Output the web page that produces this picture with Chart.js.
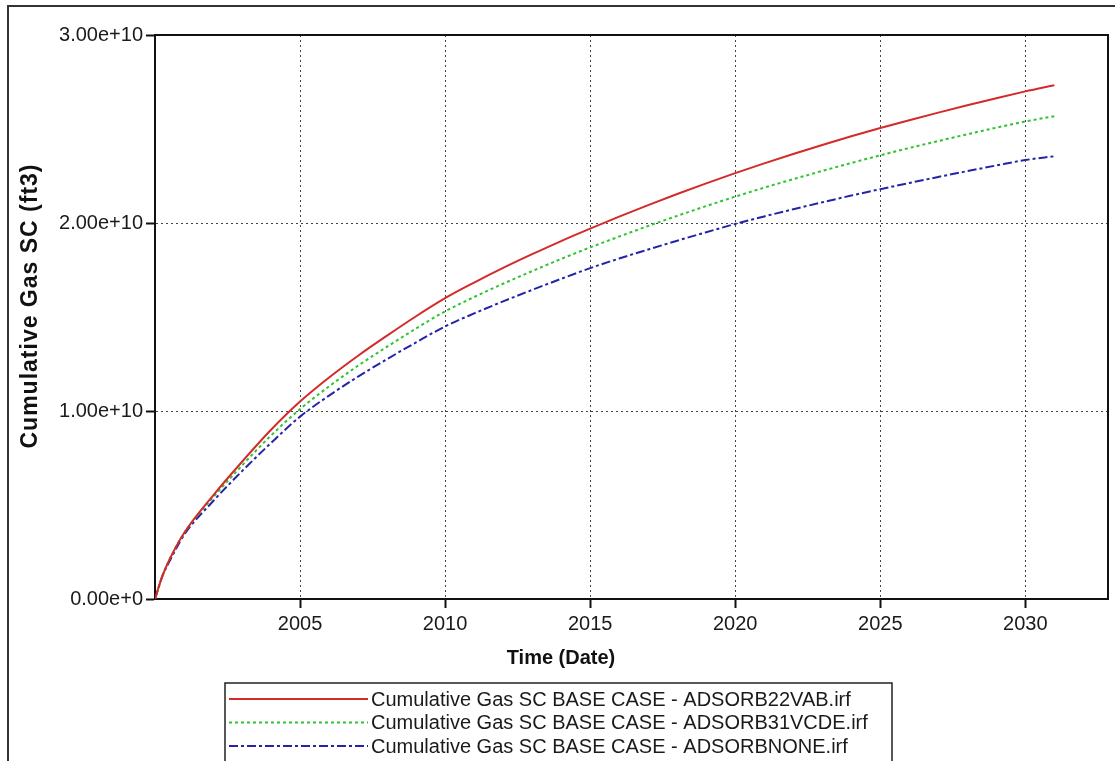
<!DOCTYPE html>
<html>
<head>
<meta charset="utf-8">
<script src="https://cdn.jsdelivr.net/npm/chart.js@4/dist/chart.umd.min.js"></script>
<style>
  html, body { margin: 0; padding: 0; background: #fff; }
  #wrap { width: 1115px; height: 761px; position: relative; }
</style>
</head>
<body>
<div id="wrap"><canvas id="c" width="1115" height="761"></canvas></div>
<script>
// Simulation output times (decimal years)
const years = [2000, 2000.25, 2000.5, 2001, 2002, 2003, 2004, 2005, 2006, 2007, 2008, 2009, 2010,
  2011, 2012, 2013, 2014, 2015, 2016, 2017, 2018, 2019, 2020, 2021, 2022, 2023, 2024, 2025,
  2026, 2027, 2028, 2029, 2030, 2031];

// Cumulative gas produced, in units of 1e10 ft3
const adsorb22vab = [0, 0.12, 0.21, 0.35, 0.55, 0.73, 0.90, 1.05, 1.178, 1.294, 1.401, 1.504, 1.60,
  1.683, 1.761, 1.834, 1.904, 1.97, 2.034, 2.095, 2.154, 2.211, 2.265, 2.317, 2.367, 2.415, 2.461, 2.505,
  2.547, 2.587, 2.626, 2.664, 2.70, 2.733];
const adsorb31vcde = [0, 0.12, 0.21, 0.35, 0.54, 0.71, 0.87, 1.01, 1.131, 1.241, 1.342, 1.439, 1.53,
  1.606, 1.677, 1.744, 1.809, 1.87, 1.928, 1.984, 2.038, 2.09, 2.14, 2.188, 2.233, 2.277, 2.319, 2.36,
  2.399, 2.436, 2.472, 2.507, 2.54, 2.568];
const adsorbnone = [0, 0.12, 0.20, 0.34, 0.52, 0.68, 0.83, 0.97, 1.082, 1.183, 1.276, 1.365, 1.45,
  1.519, 1.583, 1.644, 1.703, 1.76, 1.811, 1.859, 1.906, 1.951, 1.995, 2.035, 2.073, 2.11, 2.146, 2.18,
  2.213, 2.245, 2.276, 2.306, 2.335, 2.355];

const seriesNames = [
  'Cumulative Gas SC BASE CASE - ADSORB22VAB.irf',
  'Cumulative Gas SC BASE CASE - ADSORB31VCDE.irf',
  'Cumulative Gas SC BASE CASE - ADSORBNONE.irf'
];

const xTickYears = [2005, 2010, 2015, 2020, 2025, 2030];
const yTickValues = [0, 1e10, 2e10, 3e10];
const yTickLabels = ['0.00e+0', '1.00e+10', '2.00e+10', '3.00e+10'];

const xTitle = 'Time (Date)';
const yTitle = 'Cumulative Gas SC (ft3)';

const FONT = '"Liberation Sans", Arial, Helvetica, sans-serif';
const SCALE = 1e10;

function toPoints(vals) {
  return years.map((t, i) => ({ x: t, y: vals[i] * SCALE }));
}

const styles = [
  { color: '#d42a2a', dash: [] },
  { color: '#2fc42f', dash: [3, 3] },
  { color: '#2424a8', dash: [9, 3, 3, 3] }
];

const seriesValues = [adsorb22vab, adsorb31vcde, adsorbnone];

const datasets = seriesValues.map((vals, i) => ({
  label: seriesNames[i],
  data: toPoints(vals),
  borderColor: styles[i].color,
  backgroundColor: 'transparent',
  borderDash: styles[i].dash,
  borderWidth: 2,
  pointRadius: 0,
  cubicInterpolationMode: 'monotone',
  fill: false
}));

// Plot frame, outer border, axis titles and the boxed legend underneath
const decorPlugin = {
  id: 'decor',
  afterDraw(chart) {
    const { ctx, chartArea: a } = chart;
    ctx.save();

    // top and right edges of the plot box
    ctx.strokeStyle = '#111';
    ctx.lineWidth = 2;
    ctx.setLineDash([]);
    ctx.beginPath();
    ctx.moveTo(a.left, a.top);
    ctx.lineTo(a.right, a.top);
    ctx.lineTo(a.right, a.bottom);
    ctx.stroke();

    // outer frame
    ctx.strokeStyle = '#333';
    ctx.lineWidth = 2;
    ctx.strokeRect(8, 6, 1120, 800);

    // axis titles
    ctx.fillStyle = '#111';
    ctx.font = 'bold 20px ' + FONT;
    ctx.textAlign = 'center';
    ctx.textBaseline = 'middle';
    ctx.fillText(xTitle, 561, 658);
    ctx.save();
    ctx.translate(31, 306);
    ctx.rotate(-Math.PI / 2);
    ctx.font = 'bold 23px ' + FONT;
    ctx.letterSpacing = '1px';
    ctx.fillText(yTitle, 0, 0);
    ctx.restore();

    // legend
    const box = { left: 225, top: 683, right: 892, bottom: 780 };
    ctx.fillStyle = '#fff';
    ctx.fillRect(box.left, box.top, box.right - box.left, box.bottom - box.top);
    ctx.strokeStyle = '#222';
    ctx.lineWidth = 1.5;
    ctx.strokeRect(box.left, box.top, box.right - box.left, box.bottom - box.top);

    const rowY = [699, 722.5, 746];
    ctx.font = '20px ' + FONT;
    ctx.textAlign = 'left';
    ctx.fillStyle = '#1a1a1a';
    chart.data.datasets.forEach((ds, i) => {
      const y = rowY[i];
      ctx.strokeStyle = ds.borderColor;
      ctx.lineWidth = 2;
      ctx.setLineDash(ds.borderDash || []);
      ctx.beginPath();
      ctx.moveTo(229, y);
      ctx.lineTo(368, y);
      ctx.stroke();
      ctx.setLineDash([]);
      ctx.fillText(ds.label, 371, y + 1);
    });

    ctx.restore();
  }
};

new Chart(document.getElementById('c'), {
  type: 'line',
  data: { datasets },
  plugins: [decorPlugin],
  options: {
    responsive: false,
    animation: false,
    layout: { padding: { left: 0, top: 35, right: 7, bottom: 0 } },
    plugins: {
      legend: { display: false },
      tooltip: { enabled: false }
    },
    scales: {
      x: {
        type: 'linear',
        min: 2000,
        max: 2032.85,
        afterFit(scale) { scale.height = 162; },
        afterBuildTicks(scale) { scale.ticks = xTickYears.map(v => ({ value: v })); },
        ticks: {
          autoSkip: false,
          maxRotation: 0,
          padding: 4,
          color: '#1a1a1a',
          font: { family: FONT, size: 20 },
          callback: (v) => String(v)
        },
        grid: {
          color: '#444',
          lineWidth: 1,
          tickLength: 9,
          tickColor: '#111',
          tickWidth: 2,
          tickBorderDash: []
        },
        border: { display: true, color: '#111', width: 2, dash: [2, 3] }
      },
      y: {
        type: 'linear',
        min: 0,
        max: 3e10,
        afterFit(scale) { scale.width = 155; },
        afterBuildTicks(scale) { scale.ticks = yTickValues.map(v => ({ value: v })); },
        ticks: {
          padding: 3,
          color: '#1a1a1a',
          font: { family: FONT, size: 20 },
          callback: (v) => yTickLabels[yTickValues.indexOf(v)]
        },
        grid: {
          color: '#444',
          lineWidth: 1,
          tickLength: 9,
          tickColor: '#111',
          tickWidth: 2,
          tickBorderDash: []
        },
        border: { display: true, color: '#111', width: 2, dash: [2, 3] }
      }
    }
  }
});
</script>
</body>
</html>
